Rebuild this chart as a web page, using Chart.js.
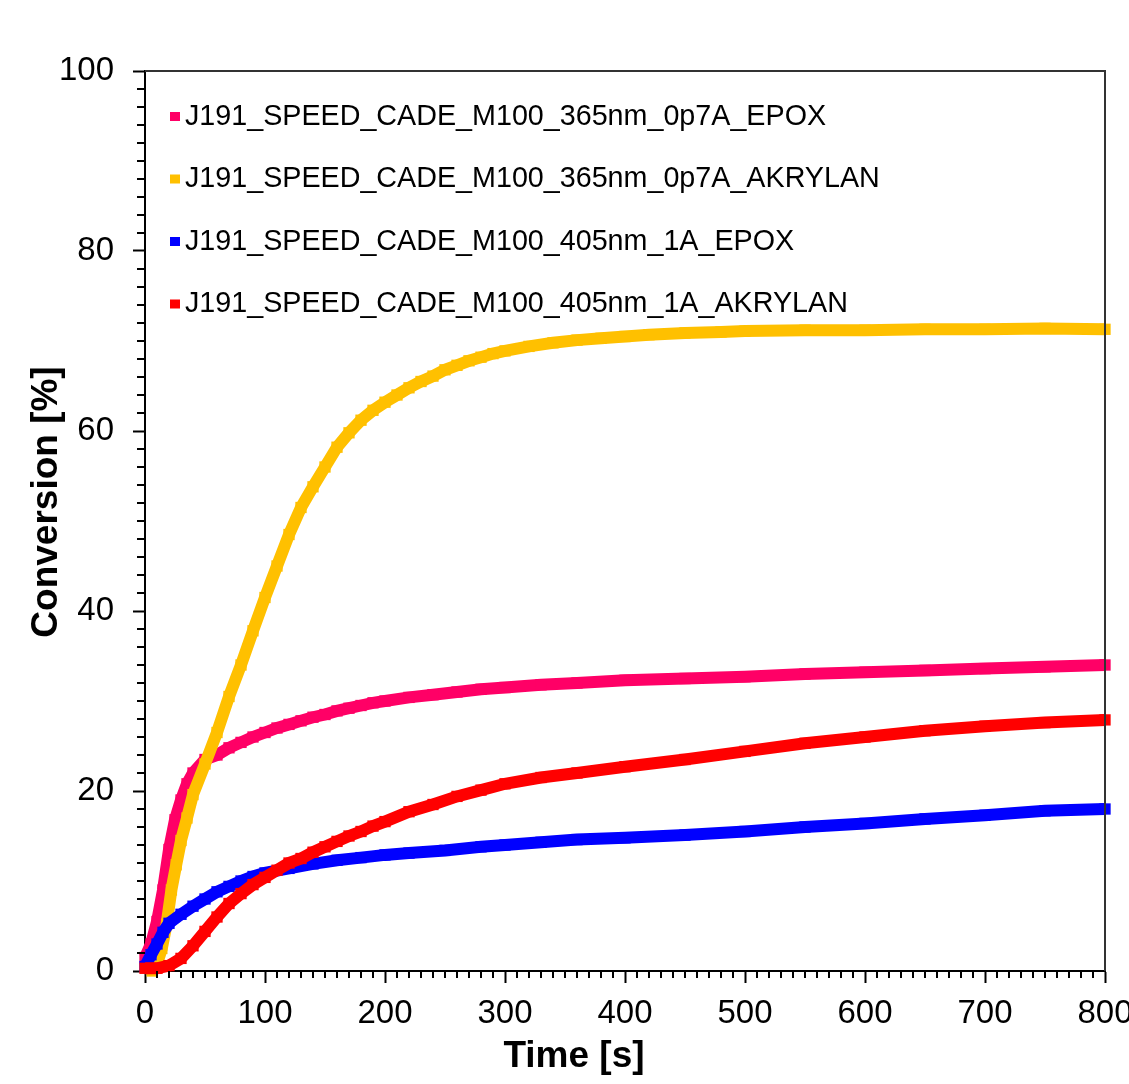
<!DOCTYPE html>
<html>
<head>
<meta charset="utf-8">
<script src="https://cdn.jsdelivr.net/npm/chart.js@4"></script>
<style>
  html, body { margin: 0; padding: 0; background: #fff; overflow: hidden; }
  #wrap { position: absolute; left: 0; top: 0; width: 1180px; height: 1084px; }
</style>
</head>
<body>
<div id="wrap"><canvas id="chart"></canvas></div>
<script>
// Series labels
const labels = [
  "J191_SPEED_CADE_M100_365nm_0p7A_EPOX",
  "J191_SPEED_CADE_M100_365nm_0p7A_AKRYLAN",
  "J191_SPEED_CADE_M100_405nm_1A_EPOX",
  "J191_SPEED_CADE_M100_405nm_1A_AKRYLAN",
];
const colors = ["#ff0066", "#ffc000", "#0000ff", "#ff0000"];
const xTitle = "Time [s]";
const yTitle = "Conversion [%]";

// 365nm EPOX
const timePink = [0, 5, 10, 15, 20, 25, 30, 35, 40, 50, 60, 70, 80, 90, 100, 110, 120, 130, 140, 150, 160, 170, 180, 190, 200, 220, 240, 260, 280, 300, 330, 360, 400, 450, 500, 550, 600, 650, 700, 750, 800];
const convPink = [1.5, 3, 5.5, 9, 13.5, 16.8, 19, 20.8, 22, 23.5, 24, 24.8, 25.4, 26, 26.5, 27, 27.4, 27.8, 28.2, 28.5, 28.9, 29.2, 29.5, 29.8, 30, 30.4, 30.7, 31, 31.3, 31.5, 31.8, 32, 32.3, 32.5, 32.7, 33, 33.2, 33.4, 33.6, 33.8, 34];

// 365nm AKRYLAN
const timeYellow = [6, 10, 14, 18, 22, 26, 30, 35, 40, 50, 60, 70, 80, 90, 100, 110, 120, 130, 140, 150, 160, 170, 180, 190, 200, 210, 220, 230, 240, 250, 260, 270, 280, 290, 300, 320, 340, 360, 380, 400, 420, 450, 480, 500, 550, 600, 650, 700, 750, 800];
const convYellow = [0, 0.8, 2.5, 5.2, 9, 11.8, 14.5, 17, 19.6, 23, 26.5, 30.5, 34, 37.8, 41.5, 45, 48.5, 51.5, 53.8, 56, 58.2, 59.8, 61.2, 62.3, 63.2, 64, 64.8, 65.5, 66.1, 66.8, 67.3, 67.8, 68.2, 68.6, 68.9, 69.4, 69.8, 70.1, 70.3, 70.5, 70.7, 70.9, 71, 71.1, 71.2, 71.2, 71.3, 71.3, 71.4, 71.3];

// 405nm EPOX
const timeBlue = [0, 5, 10, 15, 20, 30, 40, 50, 60, 70, 80, 90, 100, 120, 140, 160, 180, 200, 220, 250, 280, 300, 330, 360, 400, 450, 500, 550, 600, 650, 700, 750, 800];
const convBlue = [0.5, 1.8, 3, 4.3, 5.3, 6.3, 7.2, 8, 8.8, 9.4, 10, 10.5, 10.9, 11.4, 11.9, 12.3, 12.6, 12.9, 13.1, 13.4, 13.8, 14, 14.3, 14.6, 14.8, 15.1, 15.5, 16, 16.4, 16.9, 17.3, 17.8, 18];

// 405nm AKRYLAN
const timeRed = [0, 10, 20, 30, 40, 50, 60, 70, 80, 90, 100, 110, 120, 130, 140, 150, 160, 170, 180, 190, 200, 220, 240, 260, 280, 300, 330, 360, 400, 450, 500, 550, 600, 650, 700, 750, 800];
const convRed = [0.3, 0.3, 0.6, 1.4, 2.8, 4.4, 6, 7.5, 8.6, 9.6, 10.4, 11.2, 12, 12.5, 13.2, 13.8, 14.4, 15, 15.5, 16.1, 16.6, 17.7, 18.5, 19.4, 20.1, 20.8, 21.5, 22, 22.7, 23.5, 24.4, 25.3, 26, 26.7, 27.2, 27.6, 27.9];

const xMinorStep = 10;
const yMinorStep = 2;
const FONT = "'Liberation Sans', Arial, sans-serif";

const toPoints = (ts, vs) => ts.map((t, i) => ({ x: t, y: vs[i] }));
const series = [
  toPoints(timePink, convPink),
  toPoints(timeYellow, convYellow),
  toPoints(timeBlue, convBlue),
  toPoints(timeRed, convRed),
];

// frame, minor ticks, axis titles and the in-plot legend
const decorations = {
  id: "decorations",
  afterDraw(chart) {
    const { ctx, chartArea: a, scales: { x, y } } = chart;
    ctx.save();
    ctx.strokeStyle = "#000";
    ctx.lineWidth = 2;
    ctx.beginPath();
    for (let v = x.min; v <= x.max; v += xMinorStep) {
      if (v % 100 === 0) continue;
      const px = Math.round(x.getPixelForValue(v));
      ctx.moveTo(px, a.bottom);
      ctx.lineTo(px, a.bottom + 7);
    }
    for (let v = y.min; v <= y.max; v += yMinorStep) {
      if (v % 20 === 0) continue;
      const py = Math.round(y.getPixelForValue(v));
      ctx.moveTo(a.left, py);
      ctx.lineTo(a.left - 8, py);
    }
    ctx.stroke();

    ctx.strokeStyle = "#333";
    ctx.beginPath();
    ctx.moveTo(a.left, a.top);
    ctx.lineTo(a.right, a.top);
    ctx.lineTo(a.right, a.bottom);
    ctx.stroke();

    // axis titles (sit a little off-centre in the original)
    ctx.fillStyle = "#000";
    ctx.font = `bold 37px ${FONT}`;
    ctx.textAlign = "center";
    ctx.textBaseline = "middle";
    ctx.fillText(xTitle, 574, 1057);
    ctx.save();
    ctx.translate(47, 502);
    ctx.rotate(-Math.PI / 2);
    ctx.fillText(yTitle, 0, 0);
    ctx.restore();

    ctx.font = `28.7px ${FONT}`;
    ctx.textAlign = "left";
    chart.data.datasets.forEach((ds, i) => {
      const ry = a.top + 45 + i * 62.5;
      ctx.fillStyle = ds.borderColor;
      ctx.fillRect(a.left + 25, ry - 4, 10, 9);
      ctx.fillStyle = "#000";
      ctx.fillText(ds.label, a.left + 40, ry + 1);
    });
    ctx.restore();
  },
};

new Chart(document.getElementById("chart"), {
  type: "scatter",
  data: {
    datasets: series.map((pts, i) => ({
      label: labels[i],
      data: pts,
      showLine: true,
      borderColor: colors[i],
      backgroundColor: colors[i],
      borderWidth: 12,
      pointStyle: "rect",
      pointRadius: 8,
      pointBorderWidth: 0,
      order: 4 - i,
      clip: false,
    })),
  },
  options: {
    responsive: true,
    maintainAspectRatio: false,
    animation: false,
    layout: { padding: { left: 0, top: 71, right: 75, bottom: 0 } },
    plugins: {
      legend: { display: false },
      tooltip: { enabled: false },
    },
    scales: {
      x: {
        type: "linear",
        min: 0,
        max: 800,
        afterFit: s => { s.height = 113; },
        ticks: {
          stepSize: 100,
          color: "#000",
          padding: 11,
          font: { family: FONT, size: 33 },
        },
        grid: { drawOnChartArea: false, tickLength: 12, tickWidth: 2, tickColor: "#000" },
        border: { color: "#000", width: 2 },
      },
      y: {
        min: 0,
        max: 100,
        afterFit: s => { s.width = 145; },
        ticks: {
          stepSize: 20,
          color: "#000",
          padding: 19,
          font: { family: FONT, size: 33 },
        },
        grid: { drawOnChartArea: false, tickLength: 12, tickWidth: 2, tickColor: "#000" },
        border: { color: "#000", width: 2 },
      },
    },
  },
  plugins: [decorations],
});
</script>
</body>
</html>
